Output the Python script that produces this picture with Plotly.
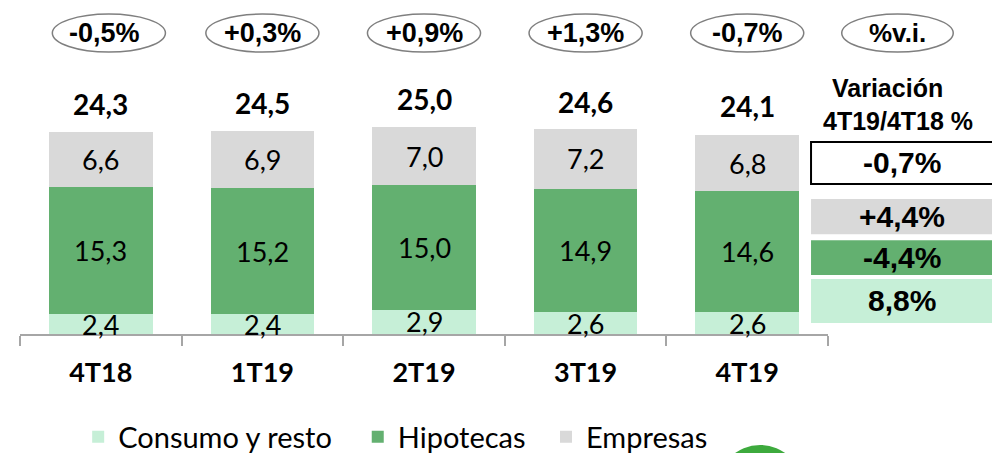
import plotly.graph_objects as go

# data (miles de millones)
periodos = ['4T18', '1T19', '2T19', '3T19', '4T19']
consumo = [2.4, 2.4, 2.9, 2.6, 2.6]
hipotecas = [15.3, 15.2, 15.0, 14.9, 14.6]
empresas = [6.6, 6.9, 7.0, 7.2, 6.8]
totales = [24.3, 24.5, 25.0, 24.6, 24.1]
var_trim = ['-0,5%', '+0,3%', '+0,9%', '+1,3%', '-0,7%']

# variacion 4T19/4T18 panel (top to bottom)
var_total = '-0,7%'
var_series = ['+4,4%', '-4,4%', '8,8%']   # empresas, hipotecas, consumo

c_consumo = '#C6EFD7'
c_hipo = '#63B070'
c_empr = '#D9D9D9'

calibri = 'Lato'
arial = 'Liberation Sans'

def fmt(v):
    return ('%.1f' % v).replace('.', ',')

fig = go.Figure()
series = [('Consumo y resto', consumo, c_consumo, 'legend'),
          ('Hipotecas', hipotecas, c_hipo, 'legend2'),
          ('Empresas', empresas, c_empr, 'legend3')]
for name, vals, col, leg in series:
    fig.add_trace(go.Bar(x=periodos, y=vals, name=name, marker_color=col, legend=leg,
                         marker_line_width=0, hoverinfo='skip'))

anns = []
# segment labels
for i, p in enumerate(periodos):
    base = 0
    for vals in (consumo, hipotecas, empresas):
        anns.append(dict(x=p, y=base + vals[i] / 2, text=fmt(vals[i]), showarrow=False,
                         yanchor='middle', font=dict(family=calibri, size=27, color='black')))
        base += vals[i]
    # totals
    anns.append(dict(x=p, y=totales[i], text='<b>%s</b>' % fmt(totales[i]), showarrow=False,
                     yanchor='middle', yshift=28, font=dict(family=calibri, size=28, color='black')))
    # quarterly change in ellipses
    anns.append(dict(x=p, y=0.901, yref='paper', text='<b>%s</b>' % var_trim[i], showarrow=False,
                     xshift=4 if i == 0 else 0,
                     yanchor='middle', font=dict(family=arial, size=27, color='black')))

shapes = []
for i in range(len(periodos)):
    dx = 0.05 if i == 0 else 0
    shapes.append(dict(type='circle', xref='x', yref='paper', x0=i - 0.35 + dx, x1=i + 0.35 + dx,
                       y0=0.844, y1=0.958, line=dict(color='#7F7F7F', width=1.5)))

# right panel
shapes.append(dict(type='circle', xref='paper', yref='paper', x0=1.017, x1=1.155,
                   y0=0.844, y1=0.958, line=dict(color='#7F7F7F', width=1.5)))
anns.append(dict(x=1.086, y=0.901, xref='paper', yref='paper', text='<b>%v.i.</b>', showarrow=False,
                 xanchor='center', yanchor='middle', font=dict(family=arial, size=26, color='black')))
anns.append(dict(x=1.074, y=0.737, xref='paper', yref='paper', text='<b>Variación</b>', showarrow=False,
                 xanchor='center', yanchor='middle', font=dict(family=arial, size=25, color='black')))
anns.append(dict(x=1.087, y=0.638, xref='paper', yref='paper', text='<b>4T19/4T18 %</b>', showarrow=False,
                 xanchor='center', yanchor='middle', font=dict(family=arial, size=25, color='black')))

boxes = [(0.575, 0.449, 'white', var_total), (0.404, 0.299, c_empr, var_series[0]),
         (0.281, 0.177, c_hipo, var_series[1]), (0.165, 0.033, c_consumo, var_series[2])]
for k, (y1, y0, col, txt) in enumerate(boxes):
    shapes.append(dict(type='rect', xref='paper', yref='paper', x0=0.979, x1=1.25, y0=y0, y1=y1,
                       fillcolor=col, line=dict(color='black', width=2) if k == 0 else dict(width=0)))
    anns.append(dict(x=1.092, y=(y0 + y1) / 2, xref='paper', yref='paper', text='<b>%s</b>' % txt,
                     showarrow=False, xanchor='center', yanchor='middle',
                     font=dict(family=arial, size=30, color='black')))

# logo fragment at the bottom
shapes.append(dict(type='circle', xref='paper', yref='paper', x0=0.863, x1=0.969, y0=-0.59, y1=-0.332,
                   fillcolor='#3DAA3D', line=dict(width=0)))

leg_font = dict(family=calibri, size=29, color='black')
fig.update_layout(
    barmode='stack', bargap=0.36,
    width=992, height=453,
    margin=dict(l=20, r=164, t=0, b=119, autoexpand=False),
    plot_bgcolor='white', paper_bgcolor='white',
    annotations=anns, shapes=shapes,
    showlegend=True,
    legend=dict(orientation='h', x=0.072, y=-0.308, xanchor='left', yanchor='middle', font=leg_font),
    legend2=dict(orientation='h', x=0.418, y=-0.308, xanchor='left', yanchor='middle', font=leg_font),
    legend3=dict(orientation='h', x=0.651, y=-0.308, xanchor='left', yanchor='middle', font=leg_font),
    xaxis=dict(showline=True, linecolor='#A6A6A6', linewidth=2, ticks='outside', tickson='boundaries',
               ticklen=10, tickcolor='#A6A6A6', tickwidth=2, ticklabelstandoff=14,
               tickfont=dict(family=calibri, size=27, color='black'),
               tickprefix='<b>', ticksuffix='</b>', showgrid=False, fixedrange=True),
    yaxis=dict(visible=False, range=[0, 40.24], fixedrange=True),
)

# page has a default 8px body margin; drop it so the figure sits at the window corner
fig.write_html("out.html", config={'displayModeBar': False},
               post_script="document.body.style.margin='0';")
